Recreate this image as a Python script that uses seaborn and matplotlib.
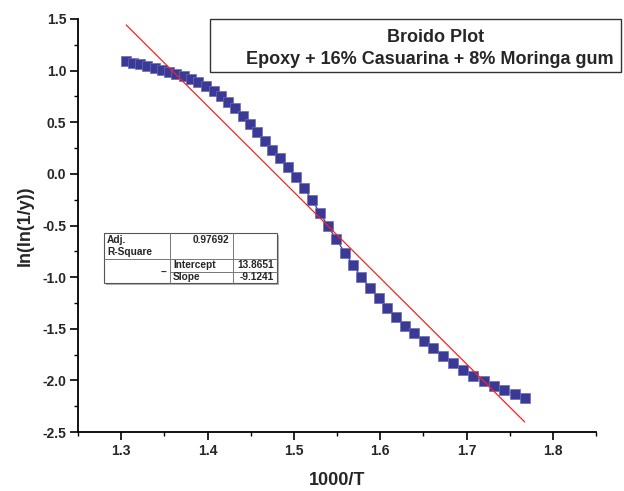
import numpy as np
import pandas as pd
import seaborn as sns
import matplotlib
matplotlib.use("Agg")
import matplotlib.pyplot as plt
from matplotlib.patches import Rectangle
from matplotlib.ticker import MultipleLocator, FormatStrFormatter

# ---------------- data ----------------
inv_T = [1.3058, 1.3140, 1.3221, 1.3302, 1.3395, 1.3477, 1.3558, 1.3640, 1.3733, 1.3814,
         1.3895, 1.3977, 1.4070, 1.4151, 1.4233, 1.4314, 1.4407, 1.4488, 1.4570, 1.4663,
         1.4744, 1.4837, 1.4930, 1.5023, 1.5116, 1.5209, 1.5302, 1.5395, 1.5488, 1.5593,
         1.5686, 1.5779, 1.5884, 1.5988, 1.6081, 1.6186, 1.6291, 1.6395, 1.6512, 1.6616,
         1.6733, 1.6849, 1.6965, 1.7081, 1.7198, 1.7314, 1.7430, 1.7558, 1.7674]
lnln = [1.094, 1.075, 1.065, 1.046, 1.027, 1.007, 0.988, 0.969, 0.949, 0.920,
        0.891, 0.852, 0.804, 0.756, 0.697, 0.639, 0.562, 0.484, 0.407, 0.320,
        0.232, 0.155, 0.068, -0.029, -0.136, -0.252, -0.378, -0.504, -0.630, -0.765,
        -0.881, -0.998, -1.104, -1.201, -1.298, -1.385, -1.472, -1.540, -1.617, -1.685,
        -1.763, -1.831, -1.898, -1.956, -2.005, -2.053, -2.092, -2.131, -2.170]

# drawn fit line
line_intercept = 12.32
line_slope = -8.33

# table text
table_adj_r2 = "0.97692"
table_intercept = "13.8651"
table_slope = "-9.1241"

title_lines = ["Broido Plot", "Epoxy + 16% Casuarina + 8% Moringa gum"]
x_ticks = [1.3, 1.4, 1.5, 1.6, 1.7, 1.8]
y_ticks = [-2.5, -2.0, -1.5, -1.0, -0.5, 0.0, 0.5, 1.0, 1.5]

# ---------------- style ----------------
sns.set_style("white")
plt.rcParams["font.family"] = ["Liberation Sans", "DejaVu Sans"]
plt.rcParams["font.weight"] = "bold"

W, H = 624, 491
fig = plt.figure(figsize=(W / 100, H / 100), dpi=100)
fig.patch.set_facecolor("white")


def fx(px):
    return px / W


def fy(py):
    return 1 - py / H


ax = fig.add_axes([fx(78), fy(432), fx(596) - fx(78), fy(19) - fy(432)])

df = pd.DataFrame({"x": inv_T, "y": lnln})
point_color = "#3a3a96"
sns.lineplot(data=df, x="x", y="y", ax=ax, color=point_color, linewidth=0.9,
             marker="s", markersize=6.8, markeredgecolor="#6a6ab8",
             markeredgewidth=0.5, zorder=3)

fit_x = np.array([inv_T[0], inv_T[-1]])
fit_df = pd.DataFrame({"x": fit_x, "y": line_intercept + line_slope * fit_x})
sns.lineplot(data=fit_df, x="x", y="y", ax=ax, color="#ff2020", linewidth=0.9, zorder=4)

ax.set_xlim(1.25, 1.85)
ax.set_ylim(-2.5, 1.5)
ax.set_xticks(x_ticks)
ax.set_yticks(y_ticks)
ax.xaxis.set_major_formatter(FormatStrFormatter("%.1f"))
ax.yaxis.set_major_formatter(FormatStrFormatter("%.1f"))
ax.xaxis.set_minor_locator(MultipleLocator(0.05))
ax.yaxis.set_minor_locator(MultipleLocator(0.25))

for s in ["top", "right"]:
    ax.spines[s].set_visible(False)
for s in ["left", "bottom"]:
    ax.spines[s].set_color("black")
    ax.spines[s].set_linewidth(1.3)

ax.tick_params(which="major", direction="out", length=5.5, width=1.2, color="black",
               labelsize=10, pad=3, bottom=True, left=True)
ax.tick_params(which="minor", direction="out", length=3, width=1.0, color="black",
               bottom=True, left=True)
for lab in ax.get_xticklabels() + ax.get_yticklabels():
    lab.set_fontweight("bold")

ax.set_xlabel("1000/T", fontsize=13, fontweight="bold", labelpad=10)
ax.set_ylabel("ln(ln(1/y))", fontsize=13, fontweight="bold", labelpad=6)

# ---------------- title box ----------------
fig.patches.append(Rectangle((fx(210), fy(72)), fx(621) - fx(210), fy(19) - fy(72),
                             transform=fig.transFigure, facecolor="white",
                             edgecolor="#333333", linewidth=1.0, zorder=5))
fig.text(fx(436), fy(37), title_lines[0], ha="center", va="center",
         fontsize=13, fontweight="bold", zorder=6)
fig.text(fx(430), fy(60), title_lines[1], ha="center", va="center",
         fontsize=13, fontweight="bold", zorder=6)

# ---------------- fit table ----------------
tl, tr, tt, tb = 104, 277, 233, 283
c1, c2 = 170, 233
r1, r2 = 259, 272
fig.patches.append(Rectangle((fx(tl + 2), fy(tb + 2)), fx(tr) - fx(tl), fy(tt) - fy(tb),
                             transform=fig.transFigure, facecolor="#b0b0b0",
                             edgecolor="none", zorder=5))
fig.patches.append(Rectangle((fx(tl), fy(tb)), fx(tr) - fx(tl), fy(tt) - fy(tb),
                             transform=fig.transFigure, facecolor="white",
                             edgecolor="#555555", linewidth=0.8, zorder=6))
lk = dict(transform=fig.transFigure, color="#777777", linewidth=0.7, zorder=7)
fig.lines.append(plt.Line2D([fx(c1), fx(c1)], [fy(tt), fy(tb)], **lk))
fig.lines.append(plt.Line2D([fx(c2), fx(c2)], [fy(tt), fy(tb)], **lk))
fig.lines.append(plt.Line2D([fx(tl), fx(tr)], [fy(r1), fy(r1)], **lk))
fig.lines.append(plt.Line2D([fx(c1), fx(tr)], [fy(r2), fy(r2)], **lk))

tk = dict(fontsize=7.3, fontweight="bold", va="center", zorder=8)
fig.text(fx(107), fy(240), "Adj.", ha="left", **tk)
fig.text(fx(107), fy(252), "R-Square", ha="left", **tk)
fig.text(fx(229), fy(240), table_adj_r2, ha="right", **tk)
fig.text(fx(167), fy(272), "--", ha="right", **tk)
fig.text(fx(173), fy(265), "Intercept", ha="left", **tk)
fig.text(fx(173), fy(277), "Slope", ha="left", **tk)
fig.text(fx(274), fy(265), table_intercept, ha="right", **tk)
fig.text(fx(274), fy(277), table_slope, ha="right", **tk)

fig.savefig("out.png", dpi=100, facecolor="white")
